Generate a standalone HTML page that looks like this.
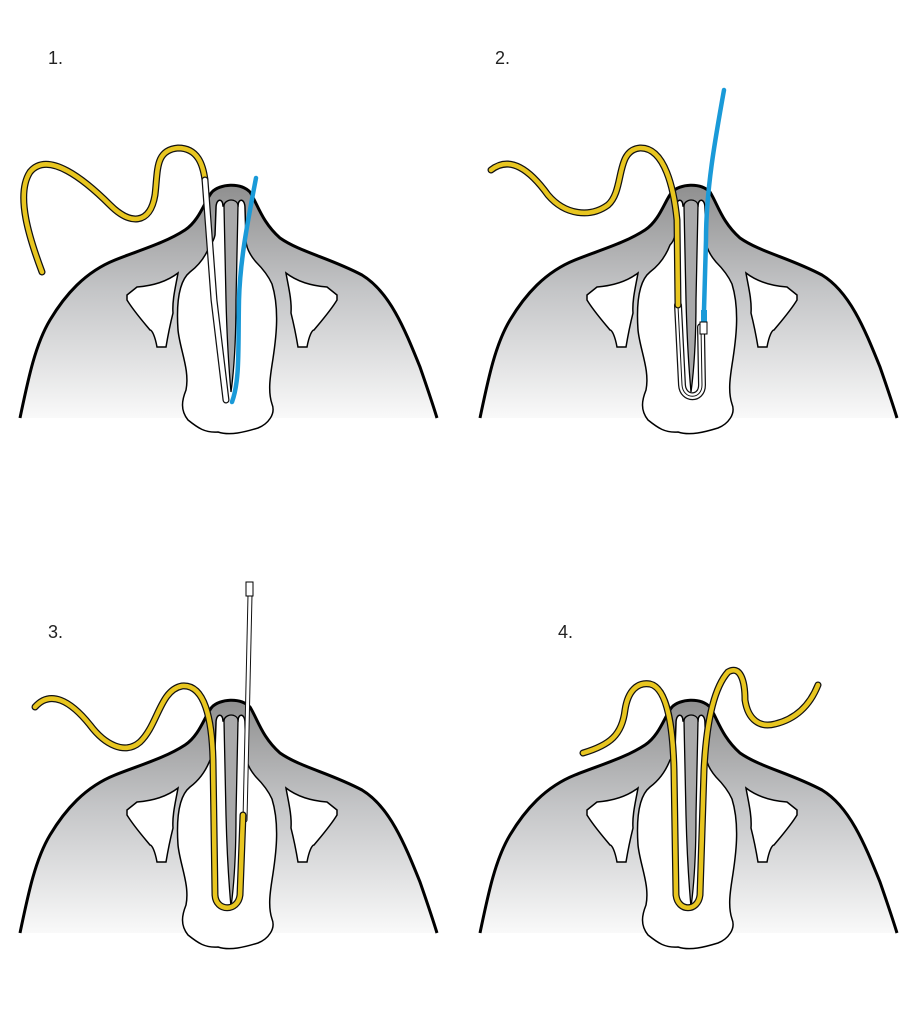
<!DOCTYPE html>
<html><head><meta charset="utf-8"><style>
html,body{margin:0;padding:0;background:#fff;}
svg{display:block;}
text{font-family:"Liberation Sans",sans-serif;font-size:18px;fill:#222;}
</style></head><body>
<svg width="920" height="1023" viewBox="0 0 920 1023" xmlns="http://www.w3.org/2000/svg">
<defs>
<linearGradient id="g" x1="0" y1="185" x2="0" y2="420" gradientUnits="userSpaceOnUse">
<stop offset="0" stop-color="#8f8f8f"/><stop offset="0.45" stop-color="#c4c5c7"/><stop offset="1" stop-color="#fafafa"/>
</linearGradient>
<g id="base">
<path d="M20,418 C28,380 35,345 50,320 C65,295 85,272 115,260 C140,250 165,243 185,230 C200,220 205,200 212,192 C220,184 240,182 250,192 C258,205 262,222 280,238 C300,252 330,258 362,275 C390,292 405,330 420,367 C428,390 433,405 437,418 Z" fill="url(#g)"/>
<path d="M20,418 C28,380 35,345 50,320 C65,295 85,272 115,260 C140,250 165,243 185,230 C200,220 205,200 212,192 C220,184 240,182 250,192 C258,205 262,222 280,238 C300,252 330,258 362,275 C390,292 405,330 420,367 C428,390 433,405 437,418" fill="none" stroke="#000" stroke-width="3"/>
<path d="M210,245 C205,258 198,266 190,272 C180,280 176,300 178,330 C180,350 190,370 186,390 C182,400 180,410 188,420 C198,428 205,433 218,432 C230,436 245,432 258,428 C268,424 276,414 272,404 C268,392 270,378 272,365 C276,340 280,310 272,284 C268,275 262,268 256,262 C250,255 246,248 246,240 L245,208 C245,198 238,198 238,206 L223,206 C223,198 216,198 216,208 L215,235 C214,240 212,243 210,245 Z" fill="#fff" stroke="#000" stroke-width="1.5"/>
<path d="M224,206 C224,201 230,200 231,200 C233,200 238,201 238,206 L236,300 C236,340 234,370 231,392 C229,370 227,340 226,300 Z" fill="#a9a9aa" stroke="#000" stroke-width="1.3"/>
<path d="M127,295 L137,287 C150,286 165,283 178,273 C176,285 172,300 173,313 C170,325 168,335 166,347 L157,347 C155,336 152,330 150,330 C140,318 133,310 127,300 Z" fill="#fff" stroke="#000" stroke-width="1.5"/>
<path d="M337,295 L327,287 C314,286 299,283 286,273 C288,285 292,300 291,313 C294,325 296,335 298,347 L307,347 C309,336 312,330 314,330 C324,318 331,310 337,300 Z" fill="#fff" stroke="#000" stroke-width="1.5"/>
</g>
</defs>
<text x="48" y="64">1.</text>
<text x="495" y="64">2.</text>
<text x="48" y="638">3.</text>
<text x="558" y="638">4.</text>

<!-- Panel 1 -->
<use href="#base"/>
<g fill="none" stroke-linecap="round">
<path d="M42,272 C30,240 15,195 30,172 C48,150 85,180 110,205 C130,225 150,225 155,195 C158,170 155,150 178,148 C198,148 203,165 205,180" stroke="#111" stroke-width="7"/>
<path d="M42,272 C30,240 15,195 30,172 C48,150 85,180 110,205 C130,225 150,225 155,195 C158,170 155,150 178,148 C198,148 203,165 205,180" stroke="#e8c620" stroke-width="4.5"/>
<path d="M205,180 L214,300 L226,400" stroke="#111" stroke-width="7"/>
<path d="M205,180 L214,300 L226,400" stroke="#fff" stroke-width="4.5"/>
<path d="M256,178 C248,220 240,260 239,300 C238,350 240,380 232,402" stroke="#1a9ad8" stroke-width="4.5"/>
</g>

<!-- Panel 2 -->
<use href="#base" transform="translate(460,0)"/>
<g fill="none" stroke-linecap="round">
<path d="M678,305 L682,385 C683,400 702,400 702,385 L701,327" stroke="#111" stroke-width="8"/>
<path d="M678,305 L682,385 C683,400 702,400 702,385 L701,327" stroke="#fff" stroke-width="5.5"/>
<path d="M678,306 L682,385 C683,400 702,400 702,385 L701,327" stroke="#111" stroke-width="1"/>
<path d="M491,170 C510,155 530,170 548,195 C565,215 590,218 608,205 C625,190 615,150 640,148 C665,147 674,190 677,220 L678,305" stroke="#111" stroke-width="7"/>
<path d="M491,170 C510,155 530,170 548,195 C565,215 590,218 608,205 C625,190 615,150 640,148 C665,147 674,190 677,220 L678,305" stroke="#e8c620" stroke-width="4.5"/>
<path d="M724,90 C715,140 706,190 706,240 L704,310" stroke="#1a9ad8" stroke-width="4.5"/>
<rect x="701" y="310" width="6" height="12" fill="#1a9ad8"/>
<rect x="700" y="322" width="7" height="12" fill="#fff" stroke="#000" stroke-width="1"/>
</g>

<!-- Panel 3 -->
<use href="#base" transform="translate(0,515)"/>
<g fill="none" stroke-linecap="round">
<path d="M250,595 L245,820" stroke="#111" stroke-width="5"/>
<path d="M250,595 L245,820" stroke="#fff" stroke-width="3"/>
<rect x="246" y="582" width="7" height="14" fill="#fff" stroke="#000" stroke-width="1"/>
<path d="M35,707 C50,690 70,700 90,725 C105,745 125,755 140,742 C158,725 160,690 182,686 C205,684 212,720 213,760 L215,895 C216,912 238,912 240,895 L243,815" stroke="#111" stroke-width="7"/>
<path d="M35,707 C50,690 70,700 90,725 C105,745 125,755 140,742 C158,725 160,690 182,686 C205,684 212,720 213,760 L215,895 C216,912 238,912 240,895 L243,815" stroke="#e8c620" stroke-width="4.5"/>
</g>

<!-- Panel 4 -->
<use href="#base" transform="translate(460,515)"/>
<g fill="none" stroke-linecap="round">
<path d="M583,753 C610,745 622,735 625,710 C628,690 638,682 650,684 C668,688 673,730 674,770 L676,895 C678,912 698,912 700,895 L704,770 C706,730 712,690 728,672 C740,665 745,680 745,700 C748,720 760,728 775,724 C800,718 812,700 818,685" stroke="#111" stroke-width="7"/>
<path d="M583,753 C610,745 622,735 625,710 C628,690 638,682 650,684 C668,688 673,730 674,770 L676,895 C678,912 698,912 700,895 L704,770 C706,730 712,690 728,672 C740,665 745,680 745,700 C748,720 760,728 775,724 C800,718 812,700 818,685" stroke="#e8c620" stroke-width="4.5"/>
</g>
</svg>
</body></html>
